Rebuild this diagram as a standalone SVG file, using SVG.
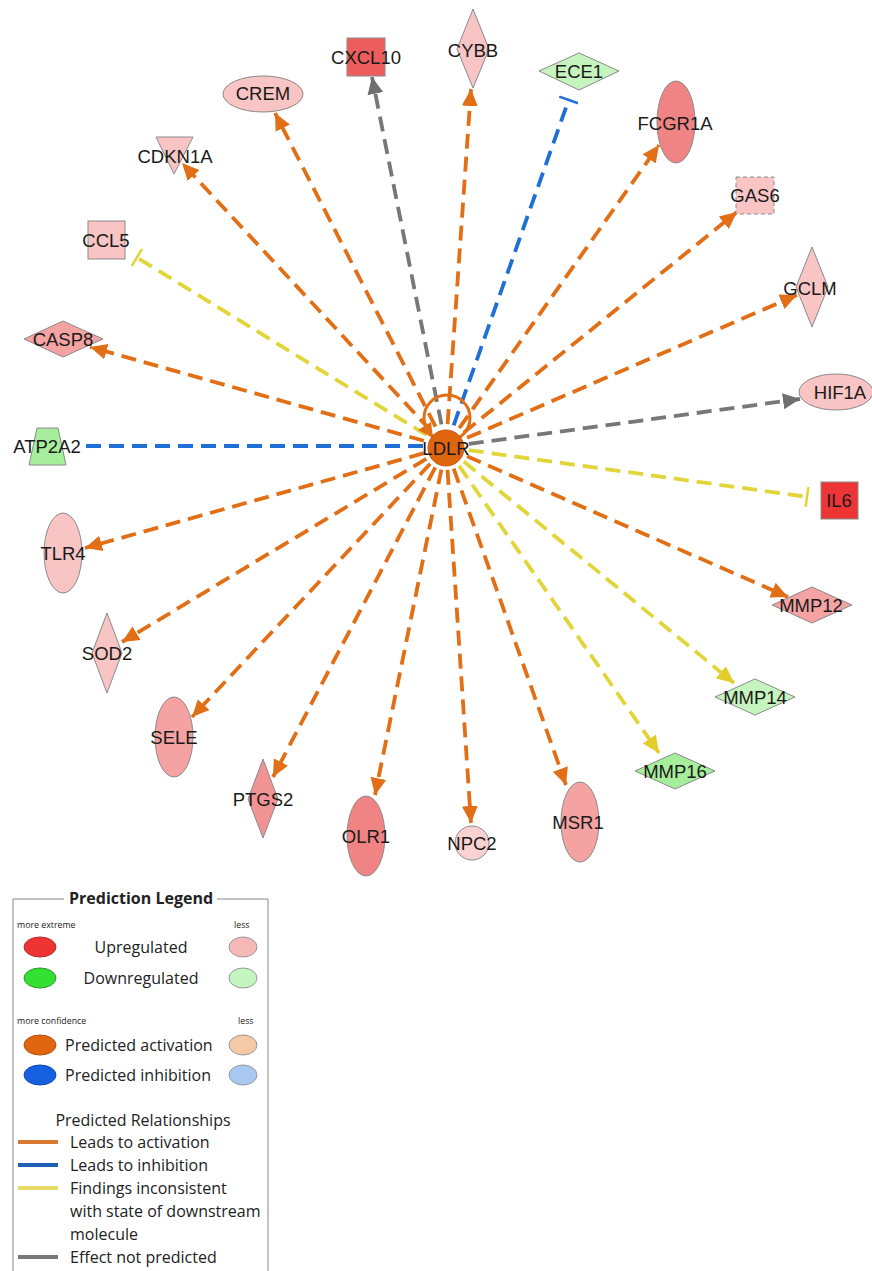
<svg xmlns="http://www.w3.org/2000/svg" width="872" height="1271" viewBox="0 0 872 1271">
<defs>
<style>
.e{fill:none;stroke-width:3.8;stroke-dasharray:15 8}
.o{stroke:#E26E16}
.y{stroke:#E2D53A}
.g{stroke:#777}
.b{stroke:#1E6FD6}
.n{stroke:#8a8a8a;stroke-width:1}
.lbl{font-family:"Liberation Sans",Arial,sans-serif;font-size:18.5px;fill:#1a1a1a;text-anchor:middle}
.lg{font-family:"Open Sans","Noto Sans",sans-serif;font-size:16px;fill:#222}
.sm{font-family:"Open Sans","Noto Sans",sans-serif;font-size:8.8px;fill:#222}
.pk{fill:#F8C4C4}
.md{fill:#F4A2A2}
.rd{fill:#F08383}
.lgn{fill:#C6F4BE}
.gn{fill:#A6EE9C}
</style>
<marker id="ao" markerUnits="userSpaceOnUse" markerWidth="18" markerHeight="18" viewBox="0 0 18 18" refX="17" refY="9" orient="auto"><path d="M0,1 L17,9 L0,17 Z" fill="#E26E16"/></marker>
<marker id="ay" markerUnits="userSpaceOnUse" markerWidth="18" markerHeight="18" viewBox="0 0 18 18" refX="17" refY="9" orient="auto"><path d="M0,1 L17,9 L0,17 Z" fill="#E2CD2A"/></marker>
<marker id="ag" markerUnits="userSpaceOnUse" markerWidth="18" markerHeight="18" viewBox="0 0 18 18" refX="17" refY="9" orient="auto"><path d="M0,1 L17,9 L0,17 Z" fill="#6f6f6f"/></marker>
<marker id="ty" markerUnits="userSpaceOnUse" markerWidth="6" markerHeight="20" viewBox="0 0 6 20" refX="4" refY="10" orient="auto"><path d="M3,0 L3,20" stroke="#E2D53A" stroke-width="2.5"/></marker>
<marker id="tb" markerUnits="userSpaceOnUse" markerWidth="6" markerHeight="20" viewBox="0 0 6 20" refX="4" refY="10" orient="auto"><path d="M3,0 L3,20" stroke="#1E6FD6" stroke-width="2.5"/></marker>
</defs>
<rect width="872" height="1271" fill="#fff"/>
<g id="connectors">
<path class="e g" d="M446,447 L372,77" marker-end="url(#ag)"/>
<path class="e o" d="M446,447 L275,113" marker-end="url(#ao)"/>
<path class="e o" d="M446,447 L182,163" marker-end="url(#ao)"/>
<path class="e y" d="M446,447 L136,257" marker-end="url(#ty)"/>
<path class="e o" d="M446,447 L90,347" marker-end="url(#ao)"/>
<path class="e b" d="M446,446 L78,446"/>
<path class="e o" d="M446,447 L85,548" marker-end="url(#ao)"/>
<path class="e o" d="M446,447 L122,642" marker-end="url(#ao)"/>
<path class="e o" d="M446,447 L192,717" marker-end="url(#ao)"/>
<path class="e o" d="M446,447 L273,777" marker-end="url(#ao)"/>
<path class="e o" d="M446,447 L375,795" marker-end="url(#ao)"/>
<path class="e o" d="M446,447 L471,823" marker-end="url(#ao)"/>
<path class="e o" d="M446,447 L566,785" marker-end="url(#ao)"/>
<path class="e y" d="M446,447 L659,753" marker-end="url(#ay)"/>
<path class="e y" d="M446,447 L734,683" marker-end="url(#ay)"/>
<path class="e o" d="M446,447 L788,597" marker-end="url(#ao)"/>
<path class="e y" d="M446,447 L808,497" marker-end="url(#ty)"/>
<path class="e g" d="M446,447 L800,399" marker-end="url(#ag)"/>
<path class="e o" d="M446,447 L797,295" marker-end="url(#ao)"/>
<path class="e o" d="M446,447 L737,212" marker-end="url(#ao)"/>
<path class="e o" d="M446,447 L659,145" marker-end="url(#ao)"/>
<path class="e b" d="M446,447 L569,99" marker-end="url(#tb)"/>
<path class="e o" d="M446,447 L471,89" marker-end="url(#ao)"/>
<circle cx="447" cy="418" r="23" fill="none" stroke="#E26E16" stroke-width="3"/>
<polygon points="433,438 431,422 418,430" fill="#E26E16"/>
</g>
<g id="LDLR"><circle cx="446" cy="448" r="18" fill="#E0650F" stroke="#c85a10"/><text class="lbl" x="446" y="455">LDLR</text></g>
<g id="CXCL10"><rect class="n" x="347" y="38" width="38" height="38" fill="#EE5D5D"/><text class="lbl" x="366" y="64">CXCL10</text></g>
<g id="CREM"><ellipse class="n pk" cx="263" cy="94" rx="40" ry="18"/><text class="lbl" x="263" y="100">CREM</text></g>
<g id="CDKN1A"><polygon class="n pk" points="156,137 193,137 174,174"/><text class="lbl" x="175" y="163">CDKN1A</text></g>
<g id="CYBB"><polygon class="n pk" points="473,9 489,49 473,88 457,49"/><text class="lbl" x="473" y="57">CYBB</text></g>
<g id="ECE1"><polygon class="n lgn" points="539,71 579,53 619,71 579,90"/><text class="lbl" x="579" y="78">ECE1</text></g>
<g id="FCGR1A"><ellipse class="n rd" cx="676" cy="122" rx="19" ry="41"/><text class="lbl" x="675" y="130">FCGR1A</text></g>
<g id="GAS6"><rect class="n pk" x="736" y="177" width="38" height="37" stroke-dasharray="4 3"/><text class="lbl" x="755" y="202">GAS6</text></g>
<g id="GCLM"><polygon class="n pk" points="812,247 828,287 812,327 796,287"/><text class="lbl" x="810" y="295">GCLM</text></g>
<g id="HIF1A"><ellipse class="n pk" cx="836" cy="392" rx="37" ry="18"/><text class="lbl" x="840" y="399">HIF1A</text></g>
<g id="IL6"><rect class="n" x="821" y="482" width="37" height="37" fill="#EE3535"/><text class="lbl" x="839" y="507">IL6</text></g>
<g id="MMP12"><polygon class="n md" points="772,605 812,587 852,605 812,623"/><text class="lbl" x="811" y="612">MMP12</text></g>
<g id="MMP14"><polygon class="n lgn" points="715,697 755,679 795,697 755,715"/><text class="lbl" x="755" y="704">MMP14</text></g>
<g id="MMP16"><polygon class="n gn" points="635,771 675,753 715,771 675,789"/><text class="lbl" x="675" y="778">MMP16</text></g>
<g id="MSR1"><ellipse class="n md" cx="580" cy="822" rx="19" ry="40"/><text class="lbl" x="578" y="829">MSR1</text></g>
<g id="NPC2"><circle class="n" cx="472" cy="843" r="17" fill="#FAD2D2"/><text class="lbl" x="472" y="850">NPC2</text></g>
<g id="OLR1"><ellipse class="n rd" cx="366" cy="836" rx="19" ry="40"/><text class="lbl" x="366" y="843">OLR1</text></g>
<g id="PTGS2"><polygon class="n" points="263,759 278,799 263,838 248,799" fill="#F29393"/><text class="lbl" x="263" y="806">PTGS2</text></g>
<g id="SELE"><ellipse class="n md" cx="174" cy="737" rx="19" ry="40"/><text class="lbl" x="174" y="744">SELE</text></g>
<g id="SOD2"><polygon class="n pk" points="107,613 122,653 107,693 92,653"/><text class="lbl" x="107" y="660">SOD2</text></g>
<g id="TLR4"><ellipse class="n pk" cx="63" cy="553" rx="19" ry="40"/><text class="lbl" x="63" y="560">TLR4</text></g>
<g id="ATP2A2"><polygon class="n gn" points="37,428 58,428 66,465 29,465"/><text class="lbl" x="47" y="453">ATP2A2</text></g>
<g id="CASP8"><polygon class="n md" points="24,339 63,321 103,339 63,357"/><text class="lbl" x="63" y="346">CASP8</text></g>
<g id="CCL5"><rect class="n pk" x="88" y="221" width="37" height="38"/><text class="lbl" x="106" y="247">CCL5</text></g>
<g id="legend">
<path d="M64,899 L13,899 L13,1275 M217,899 L268,899 L268,1275" fill="none" stroke="#888" stroke-width="1"/>
<text class="lg" x="141" y="904" text-anchor="middle" font-weight="bold">Prediction Legend</text>
<text class="sm" x="17" y="928">more extreme</text>
<text class="sm" x="234" y="928">less</text>
<ellipse cx="40" cy="947" rx="16" ry="10" fill="#EE3333" stroke="#b03030"/>
<text class="lg" x="141" y="953" text-anchor="middle">Upregulated</text>
<ellipse cx="243" cy="947" rx="14" ry="10" fill="#F7B8B8" stroke="#999"/>
<ellipse cx="40" cy="978" rx="16" ry="10" fill="#33E033" stroke="#2a9a2a"/>
<text class="lg" x="141" y="984" text-anchor="middle">Downregulated</text>
<ellipse cx="243" cy="978" rx="14" ry="10" fill="#C4F5BE" stroke="#999"/>
<text class="sm" x="17" y="1024">more confidence</text>
<text class="sm" x="238" y="1024">less</text>
<ellipse cx="40" cy="1045" rx="16" ry="10" fill="#E0650F" stroke="#b0500c"/>
<text class="lg" x="65" y="1051">Predicted activation</text>
<ellipse cx="243" cy="1045" rx="14" ry="10" fill="#F6C9A6" stroke="#999"/>
<ellipse cx="40" cy="1075" rx="16" ry="10" fill="#1560E0" stroke="#104aa8"/>
<text class="lg" x="65" y="1081">Predicted inhibition</text>
<ellipse cx="243" cy="1075" rx="14" ry="10" fill="#A8C8F2" stroke="#999"/>
<text class="lg" x="143" y="1126" text-anchor="middle">Predicted Relationships</text>
<line x1="18" y1="1142" x2="58" y2="1142" stroke="#D97A30" stroke-width="4"/>
<text class="lg" x="70" y="1148">Leads to activation</text>
<line x1="18" y1="1165" x2="58" y2="1165" stroke="#1F5FB5" stroke-width="4"/>
<text class="lg" x="70" y="1171">Leads to inhibition</text>
<line x1="18" y1="1188" x2="58" y2="1188" stroke="#E8DA66" stroke-width="4"/>
<text class="lg" x="70" y="1194">Findings inconsistent</text>
<text class="lg" x="70" y="1217">with state of downstream</text>
<text class="lg" x="70" y="1240">molecule</text>
<line x1="18" y1="1257" x2="58" y2="1257" stroke="#777" stroke-width="4"/>
<text class="lg" x="70" y="1263">Effect not predicted</text>
</g>
</svg>
